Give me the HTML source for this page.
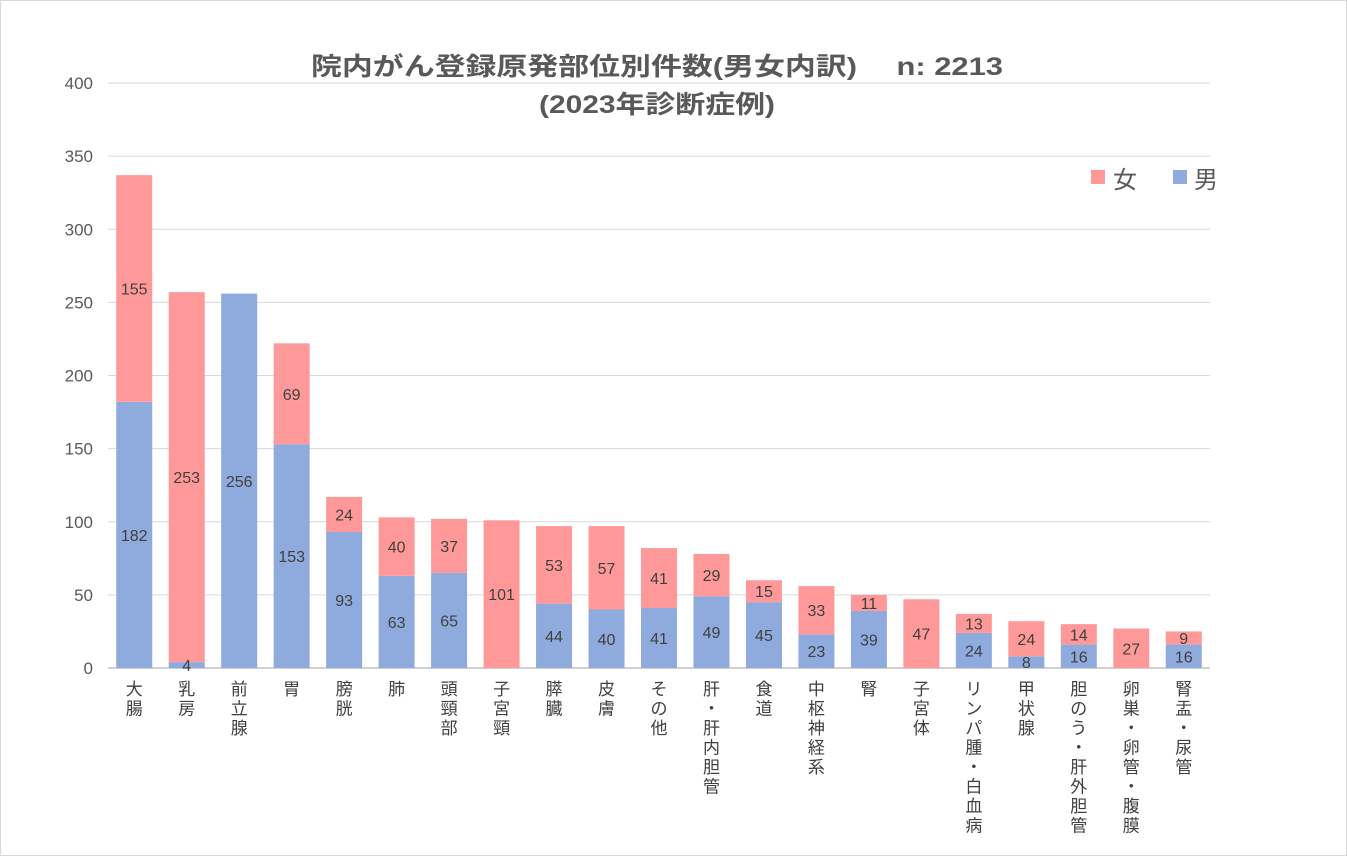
<!DOCTYPE html>
<html><head><meta charset="utf-8"><style>
html,body{margin:0;padding:0;background:#fff}
svg{display:block;font-family:"Liberation Sans","Noto Sans CJK JP",sans-serif}
</style></head><body>
<svg id="chart" width="1347" height="856" viewBox="0 0 1347 856">
<rect x="0.5" y="0.5" width="1346" height="855" fill="#fff" stroke="#d9d9d9"/>
<text x="657" y="75" font-size="25" font-weight="bold" fill="#595959" textLength="692" lengthAdjust="spacingAndGlyphs" text-anchor="middle">院内がん登録原発部位別件数(男女内訳)　 n: 2213</text>
<text x="657" y="113" font-size="25" font-weight="bold" fill="#595959" textLength="236" lengthAdjust="spacingAndGlyphs" text-anchor="middle">(2023年診断症例)</text>
<g id="grid"></g><g id="bars"></g><g id="labels"></g>
<g>
<rect x="1091" y="170" width="14" height="14" fill="#FF9999"/>
<text x="1113" y="188" font-size="24" fill="#595959">女</text>
<rect x="1173" y="170" width="14" height="14" fill="#8FAADC"/>
<text x="1194" y="188" font-size="24" fill="#595959">男</text>
</g>
</svg>
<script>
const categories=["大腸","乳房","前立腺","胃","膀胱","肺","頭頸部","子宮頸","膵臓","皮膚","その他","肝・肝内胆管","食道","中枢神経系","腎","子宮体","リンパ腫・白血病","甲状腺","胆のう・肝外胆管","卵巣・卵管・腹膜","腎盂・尿管"];
const male=[182,4,256,153,93,63,65,0,44,40,41,49,45,23,39,0,24,8,16,0,16];
const female=[155,253,0,69,24,40,37,101,53,57,41,29,15,33,11,47,13,24,14,27,9];
const yTicks=[0,50,100,150,200,250,300,350,400];
const NS="http://www.w3.org/2000/svg";
const X0=108,X1=1210,Y0=668,Ytop=83,YMAX=400;
const step=(X1-X0)/categories.length;
const bw=36;
function y(v){return Y0-(v/YMAX)*(Y0-Ytop);}
function xc(i){return X0+step*(i+0.5);}
function mk(tag,attrs,parent){const e=document.createElementNS(NS,tag);for(const k in attrs)e.setAttribute(k,attrs[k]);parent.appendChild(e);return e;}
const grid=document.getElementById('grid'),bars=document.getElementById('bars'),labels=document.getElementById('labels');
yTicks.forEach(t=>{
 const l=mk('line',{x1:X0,x2:X1,y1:y(t),y2:y(t),stroke:t===0?'#d0d0d0':'#d9d9d9','stroke-width':t===0?2:1},grid);
 
 
 const tx=mk('text',{x:93,y:y(t)+6,'font-size':17,fill:'#595959','text-anchor':'end'},grid);
 tx.textContent=t;
 
 
});
categories.forEach((c,i)=>{
 const cx=xc(i);
 const m=male[i],f=female[i];
 const rm=mk('rect',{x:cx-bw/2,y:y(m),width:bw,height:y(0)-y(m),fill:'#8FAADC'},bars);
 
 
 const rf=mk('rect',{x:cx-bw/2,y:y(m+f),width:bw,height:y(m)-y(m+f),fill:'#FF9999'},bars);
 
 
 if(m>0){const t=mk('text',{x:cx,y:(y(0)+y(m))/2+6,'font-size':16,fill:'#404040','text-anchor':'middle'},labels);t.textContent=m;
  
  }
 if(f>0){const t=mk('text',{x:cx,y:(y(m)+y(m+f))/2+6,'font-size':16,fill:'#404040','text-anchor':'middle'},labels);t.textContent=f;
  
  }
 const chars=Array.from(c);
 const g=mk('text',{'font-size':17,fill:'#404040','text-anchor':'middle'},labels);
 
 
 chars.forEach((ch,k)=>{const s=mk('tspan',{x:cx,y:695+k*19.5},g);s.textContent=ch;});
});
</script>
</body></html>
